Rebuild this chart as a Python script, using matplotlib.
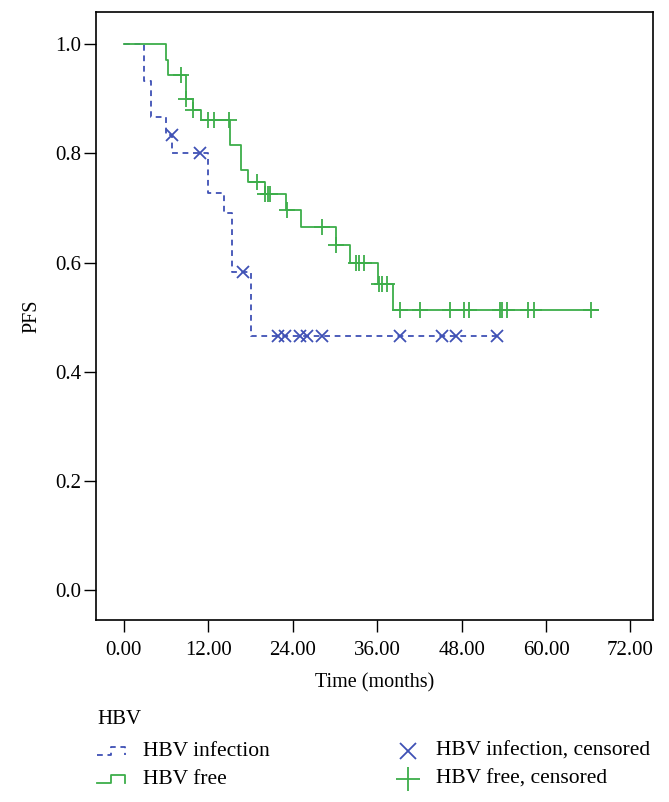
import numpy as np
import matplotlib
matplotlib.use("Agg")
import matplotlib.pyplot as plt
from matplotlib.lines import Line2D

plt.rcParams['font.family'] = ['Liberation Serif', 'DejaVu Serif']

# ---- data ----
inf_times = [0.0, 2.84, 3.9, 6.06, 6.9, 11.96, 14.3, 15.4, 18.0]
inf_surv = [1.0, 0.933, 0.867, 0.833, 0.800, 0.727, 0.690, 0.582, 0.465]
inf_end = 53.1
inf_cens = [6.85, 10.8, 16.9, 21.9, 22.9, 25.1, 26.0, 28.1, 39.2, 45.2, 47.2, 53.1]

free_times = [0.0, 6.06, 6.3, 8.9, 9.8, 11.0, 15.1, 16.7, 17.7, 20.0, 23.0,
              25.2, 30.1, 32.1, 36.1, 38.2]
free_surv = [1.0, 0.971, 0.943, 0.900, 0.879, 0.861, 0.815, 0.769, 0.747,
             0.725, 0.696, 0.665, 0.633, 0.600, 0.560, 0.513]
free_end = 67.4
free_cens = [8.1, 8.9, 9.8, 12.0, 12.8, 15.0, 18.9, 20.0, 20.5, 20.8, 23.2,
             28.2, 30.1, 33.05, 33.4, 34.2, 36.3, 36.7, 37.4, 39.2, 42.1,
             46.3, 48.3, 49.1, 53.4, 53.7, 54.5, 57.4, 58.3, 66.4]

x_ticks = [0, 12, 24, 36, 48, 60, 72]
y_ticks = [0.0, 0.2, 0.4, 0.6, 0.8, 1.0]

legend_title = "HBV"
labels = ["HBV infection", "HBV free", "HBV infection, censored", "HBV free, censored"]

BLUE = '#3f51b5'
GREEN = '#3dae4a'


def level_at(times, surv, t):
    idx = np.searchsorted(np.asarray(times), t, side='right') - 1
    return np.asarray(surv)[idx]


fig = plt.figure(figsize=(6.69, 8.02), dpi=100)
ax = fig.add_axes([0.1435, 0.227, 0.8325, 0.758])

# step curves
ax.step(inf_times + [inf_end], inf_surv + [inf_surv[-1]], where='post',
        color=BLUE, lw=1.3, dashes=(3.2, 2.6))
ax.step(free_times + [free_end], free_surv + [free_surv[-1]], where='post',
        color=GREEN, lw=1.3)

# censored marks
ax.plot(inf_cens, level_at(inf_times, inf_surv, inf_cens), ls='none',
        marker='x', ms=8, mew=1.3, color=BLUE)
ax.plot(free_cens, level_at(free_times, free_surv, free_cens), ls='none',
        marker='+', ms=11, mew=1.3, color=GREEN)

ax.set_xlim(-3.96, 75.2)
ax.set_ylim(-0.0546, 1.059)
ax.set_xticks(x_ticks)
ax.set_xticklabels([f"{v:.2f}" for v in x_ticks])
ax.set_yticks(y_ticks)
ax.set_yticklabels([f"{v:.1f}" for v in y_ticks])
ax.tick_params(direction='out', length=8.5, width=1.0, labelsize=15)
ax.tick_params(axis='x', pad=7)
ax.tick_params(axis='y', pad=2)
for s in ax.spines.values():
    s.set_linewidth(1.2)

ax.set_xlabel("Time (months)", fontsize=14.5, labelpad=9)
ax.set_ylabel("PFS", fontsize=14.5, labelpad=10)

# ---- legend drawn below the plot ----


def fx(px):
    return px / 669


def fy(py):
    return 1 - py / 802


fig.text(fx(97), fy(719), legend_title, fontsize=15, va='center', ha='left')


def step_icon(x0, yc, color, dashed):
    xs = [x0, x0 + 14, x0 + 14, x0 + 28, x0 + 28]
    ys = [yc + 4, yc + 4, yc - 4, yc - 4, yc + 4]
    kw = dict(color=color, lw=1.3, transform=fig.transFigure)
    if dashed:
        kw['dashes'] = (3.2, 2.6)
    fig.add_artist(Line2D([fx(x) for x in xs], [fy(y) for y in ys], **kw))


row1, row2 = 751, 779
step_icon(97, row1, BLUE, True)
step_icon(97, row2, GREEN, False)
fig.text(fx(143), fy(row1), labels[0], fontsize=15.5, va='center', ha='left')
fig.text(fx(143), fy(row2), labels[1], fontsize=15.5, va='center', ha='left')

fig.add_artist(Line2D([fx(408)], [fy(row1)], marker='x', ms=11, mew=1.3,
                      color=BLUE, transform=fig.transFigure))
fig.add_artist(Line2D([fx(408)], [fy(row2)], marker='+', ms=17, mew=1.3,
                      color=GREEN, transform=fig.transFigure))
fig.text(fx(436), fy(row1), labels[2], fontsize=15.5, va='center', ha='left')
fig.text(fx(436), fy(row2), labels[3], fontsize=15.5, va='center', ha='left')

fig.savefig("out.png", dpi=100)
